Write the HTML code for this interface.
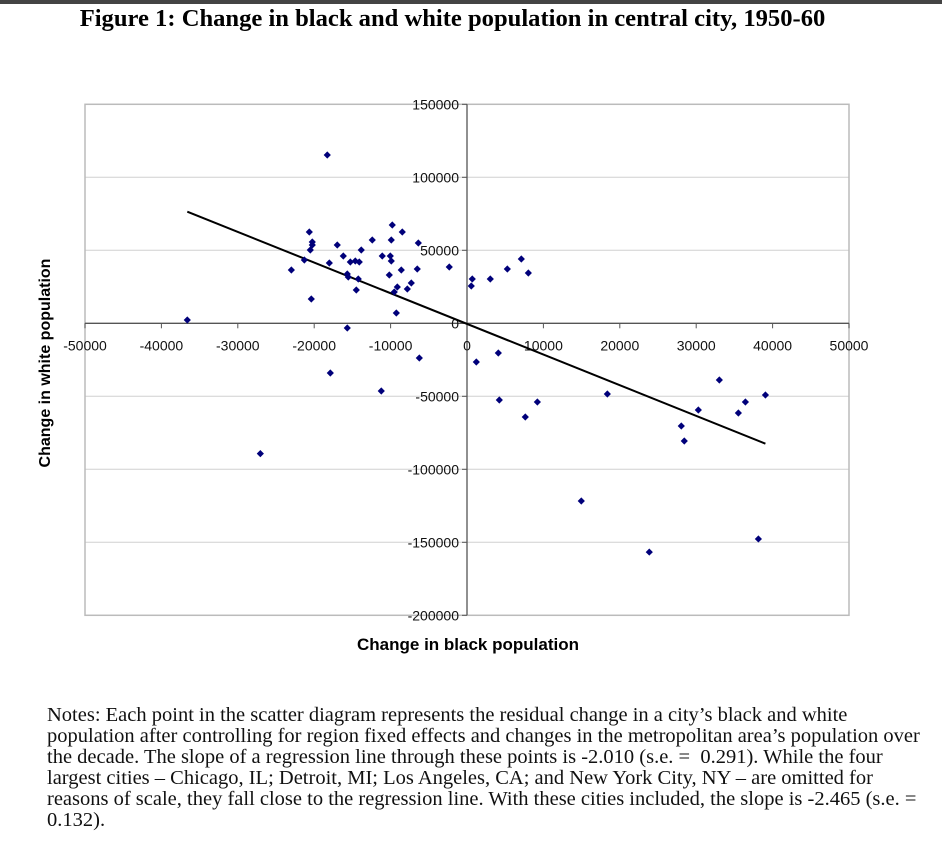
<!DOCTYPE html>
<html><head><meta charset="utf-8">
<style>
body{margin:0;width:942px;height:856px;background:#fff;position:relative;overflow:hidden;font-family:"Liberation Sans",Arial,sans-serif}
#topbar{position:absolute;left:0;top:0;width:942px;height:4px;background:#444}
#title{position:absolute;left:0;width:905px;top:5px;text-align:center;font-family:"Liberation Serif",serif;font-weight:bold;font-size:24.6px;color:#000}
#notes{position:absolute;left:47px;top:705px;font-family:"Liberation Serif",serif;font-size:20.5px;line-height:21px;color:#111;white-space:pre}
svg{position:absolute;left:0;top:0}
</style></head><body>
<div id="topbar"></div>
<div id="title">Figure 1: Change in black and white population in central city, 1950-60</div>
<svg id="chart" width="942" height="700"></svg>
<div id="notes">Notes: Each point in the scatter diagram represents the residual change in a city’s black and white
population after controlling for region fixed effects and changes in the metropolitan area’s population over
the decade. The slope of a regression line through these points is -2.010 (s.e. =  0.291). While the four
largest cities – Chicago, IL; Detroit, MI; Los Angeles, CA; and New York City, NY – are omitted for
reasons of scale, they fall close to the regression line. With these cities included, the slope is -2.465 (s.e. =
0.132).</div>
<script>
const xTicks=[-50000,-40000,-30000,-20000,-10000,0,10000,20000,30000,40000,50000];
const yTicks=[150000,100000,50000,0,-50000,-100000,-150000,-200000];
const blackChange=[-36610,-27050,-22990,-21290,-20640,-20250,-20250,-20510,-20380,-18290,-18020,-17890,-16980,-16190,-15670,-15670,-15540,-15270,-14620,-14100,-14490,-14230,-13840,-12400,-11090,-10040,-9910,-10170,-9910,-9780,-8470,-8600,-7810,-7290,-9120,-9520,-9250,-6370,-6510,-6240,-11220,-2320,690,560,1220,3050,4100,4230,5280,7110,8030,7630,9210,18370,14960,23860,28050,28440,30280,33030,35520,36440,39060,38140];
const whiteChange=[2260,-89240,36500,43350,62530,55680,53630,50200,16640,115270,41300,-34040,53630,46100,-3220,33770,31710,41980,42670,41980,22810,30340,50200,57050,46100,46100,42670,33080,57050,67320,62530,36500,23490,27600,24860,21440,7060,55000,37190,-23770,-46370,38560,30340,25550,-26510,30340,-20350,-52540,37190,44040,34450,-64170,-53900,-48420,-121700,-156700,-70340,-80610,-59380,-38830,-61430,-53900,-49110,-147700];
const regIntercept=-400, regSlope=-2.1, regXRange=[-36610,39060];

const svg=document.getElementById('chart');
const NS='http://www.w3.org/2000/svg';
const L=85,R=849,T=104.3,B=615.3;
const sx=v=>L+(v+50000)/100000*(R-L);
const sy=v=>T+(150000-v)/350000*(B-T);
function mk(t,a,p){const e=document.createElementNS(NS,t);for(const k in a)e.setAttribute(k,a[k]);(p||svg).appendChild(e);return e;}

yTicks.forEach(v=>{if(v!==0&&v!==150000&&v!==-200000){
  const g=mk('line',{x1:L,x2:R,y1:sy(v),y2:sy(v),stroke:'#d0d0d0','stroke-width':1});
  
  }});
const fr=mk('rect',{x:L,y:T,width:R-L,height:B-T,fill:'none',stroke:'#bbb','stroke-width':1.5});



const xa=mk('line',{x1:L,x2:R,y1:sy(0),y2:sy(0),stroke:'#555','stroke-width':1.3});


const ya=mk('line',{x1:sx(0),x2:sx(0),y1:T,y2:B,stroke:'#555','stroke-width':1.3});



xTicks.forEach(v=>{
  mk('line',{x1:sx(v),x2:sx(v),y1:sy(0),y2:sy(0)+5,stroke:'#555'});
  const t=mk('text',{x:sx(v),y:sy(0)+27,'text-anchor':'middle','font-size':14,fill:'#111'});
  t.textContent=v;
  
  
});
yTicks.forEach(v=>{
  mk('line',{x1:sx(0)-5,x2:sx(0),y1:sy(v),y2:sy(v),stroke:'#555'});
  const t=mk('text',{x:sx(0)-8,y:sy(v)+5,'text-anchor':'end','font-size':14,fill:'#111'});
  t.textContent=v;
  
  
});

const rl=mk('line',{x1:sx(regXRange[0]),y1:sy(regIntercept+regSlope*regXRange[0]),x2:sx(regXRange[1]),y2:sy(regIntercept+regSlope*regXRange[1]),stroke:'#000','stroke-width':2});



blackChange.forEach((bx,i)=>{
  const cx=sx(bx),cy=sy(whiteChange[i]),r=3.6;
  const p=mk('polygon',{points:`${cx},${cy-r} ${cx+r},${cy} ${cx},${cy+r} ${cx-r},${cy}`,fill:'#00007a'});
  
  
});

const xt=mk('text',{x:468,y:650,'text-anchor':'middle','font-size':17,'font-weight':'bold',fill:'#000'});
xt.textContent='Change in black population';


const yt=mk('text',{x:0,y:0,'text-anchor':'middle','font-size':16,'font-weight':'bold',fill:'#000',transform:'translate(50,363) rotate(-90)'});
yt.textContent='Change in white population';


</script>
</body></html>
